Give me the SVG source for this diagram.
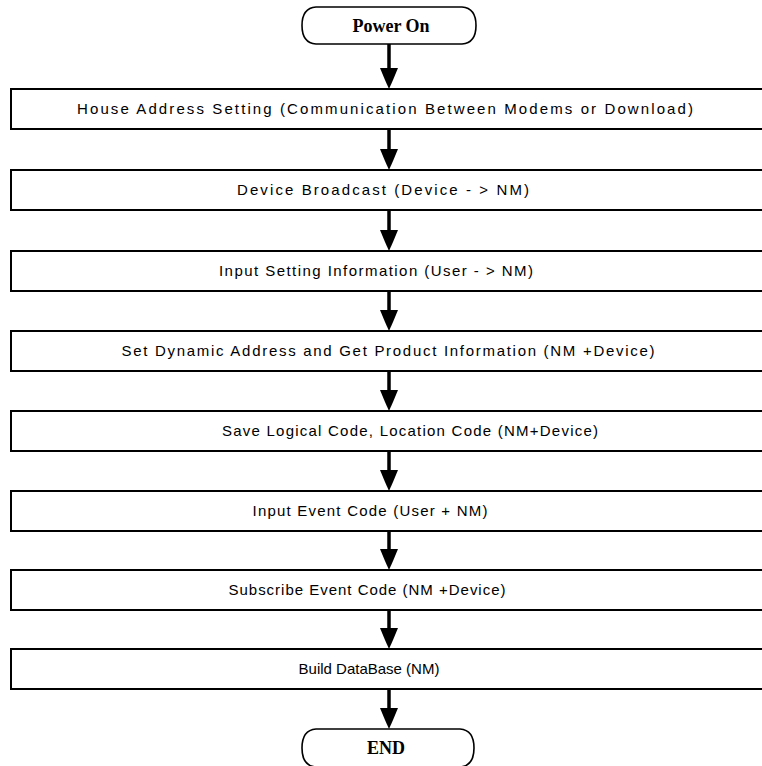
<svg xmlns="http://www.w3.org/2000/svg" width="762" height="766" viewBox="0 0 762 766">
<defs>
<style>
.box{fill:#fff;stroke:#000;stroke-width:2}
.term{fill:#fff;stroke:#000;stroke-width:1.6}
.lbl{font-family:"Liberation Sans",Arial,sans-serif;font-size:15px;fill:#000;text-anchor:middle}
.tl{font-family:"Liberation Serif","Times New Roman",serif;font-size:18px;font-weight:bold;fill:#000;text-anchor:middle}
.ln{stroke:#000;stroke-width:3.5;fill:none}
.hd{fill:#000}
</style>
</defs>
<rect width="762" height="766" fill="#fff"/>
<g id="connectors">
<line class="ln" x1="389" y1="44" x2="389" y2="72"/><polygon class="hd" points="380,68 398,68 393,80 389,89 385,80"/>
<line class="ln" x1="389" y1="129" x2="389" y2="153"/><polygon class="hd" points="380,149 398,149 393,161 389,170 385,161"/>
<line class="ln" x1="389" y1="210" x2="389" y2="234"/><polygon class="hd" points="380,230 398,230 393,242 389,251 385,242"/>
<line class="ln" x1="389" y1="291" x2="389" y2="314"/><polygon class="hd" points="380,310 398,310 393,322 389,331 385,322"/>
<line class="ln" x1="389" y1="371" x2="389" y2="394"/><polygon class="hd" points="380,390 398,390 393,402 389,411 385,402"/>
<line class="ln" x1="389" y1="451" x2="389" y2="474"/><polygon class="hd" points="380,470 398,470 393,482 389,491 385,482"/>
<line class="ln" x1="389" y1="531" x2="389" y2="553"/><polygon class="hd" points="380,549 398,549 393,561 389,570 385,561"/>
<line class="ln" x1="389" y1="610" x2="389" y2="632"/><polygon class="hd" points="380,628 398,628 393,640 389,649 385,640"/>
<line class="ln" x1="389" y1="689" x2="389" y2="712"/><polygon class="hd" points="380,708 398,708 393,720 389,729 385,720"/>
</g>
<g id="n0"><path class="term" d="M316,7 H462 Q476,8 476,25.5 Q476,43 462,44 H316 Q302,43 302,25.5 Q302,8 316,7 Z"/><text class="tl" x="391" y="32">Power On</text></g>
<g id="n1"><rect class="box" x="11" y="89" width="760" height="40"/><text class="lbl" x="385" y="114" textLength="616" lengthAdjust="spacing">House Address Setting (Communication Between Modems or Download)</text></g>
<g id="n2"><rect class="box" x="11" y="170" width="760" height="40"/><text class="lbl" x="383" y="195" textLength="292" lengthAdjust="spacing">Device Broadcast (Device - &gt; NM)</text></g>
<g id="n3"><rect class="box" x="11" y="251" width="760" height="40"/><text class="lbl" x="376" y="276" textLength="314" lengthAdjust="spacing">Input Setting Information (User - &gt; NM)</text></g>
<g id="n4"><rect class="box" x="11" y="331" width="760" height="40"/><text class="lbl" x="388" y="356" textLength="533" lengthAdjust="spacing">Set Dynamic Address and Get Product Information (NM    +Device)</text></g>
<g id="n5"><rect class="box" x="11" y="411" width="760" height="40"/><text class="lbl" x="410" y="436" textLength="376" lengthAdjust="spacing">Save Logical Code, Location Code (NM+Device)</text></g>
<g id="n6"><rect class="box" x="11" y="491" width="760" height="40"/><text class="lbl" x="370" y="516" textLength="235" lengthAdjust="spacing">Input Event Code (User + NM)</text></g>
<g id="n7"><rect class="box" x="11" y="570" width="760" height="40"/><text class="lbl" x="367" y="595" textLength="277" lengthAdjust="spacing">Subscribe Event Code (NM +Device)</text></g>
<g id="n8"><rect class="box" x="11" y="649" width="760" height="40"/><text class="lbl" x="369" y="674">Build DataBase (NM)</text></g>
<g id="n9"><path class="term" d="M316,729 H460 Q474,730 474,748 Q474,766 460,767 H316 Q302,766 302,748 Q302,730 316,729 Z"/><text class="tl" x="386" y="754">END</text></g>
</svg>
